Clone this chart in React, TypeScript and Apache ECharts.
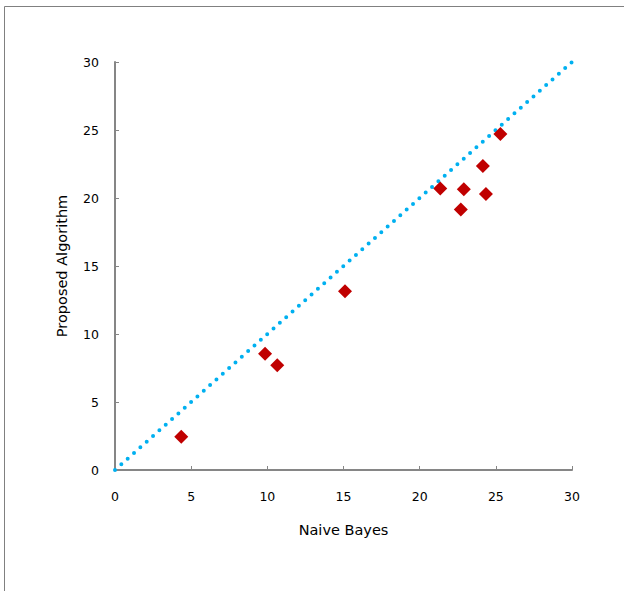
import React, { useEffect, useRef } from "react";
import * as echarts from "echarts";

const naiveBayes = [4.35, 9.85, 10.65, 15.1, 21.35, 22.9, 22.7, 24.15, 24.35, 25.3];
const proposed = [2.45, 8.55, 7.7, 13.15, 20.7, 20.65, 19.15, 22.35, 20.3, 24.7];
const refLineX = [0, 30];
const refLineY = [0, 30];
const ticks = [0, 5, 10, 15, 20, 25, 30];

export default function App() {
  const ref = useRef<HTMLDivElement>(null);
  useEffect(() => {
    if (!ref.current) return;
    const chart = echarts.init(ref.current, null, { renderer: "svg" });
    const font = "'DejaVu Sans', Verdana, sans-serif";
    chart.setOption({
      animation: false,
      backgroundColor: "#ffffff",
      grid: { left: 115, right: 52, top: 62, bottom: 121 },
      graphic: [
        {
          type: "rect",
          shape: { x: 4.5, y: 6.5, width: 700, height: 700 },
          style: { fill: "none", stroke: "#808080", lineWidth: 1 },
          silent: true,
          z: -1,
        },
      ],
      xAxis: {
        type: "value",
        min: ticks[0],
        max: ticks[ticks.length - 1],
        interval: 5,
        name: "Naive Bayes",
        nameLocation: "middle",
        nameGap: 52,
        nameTextStyle: { fontFamily: font, fontSize: 14.5, color: "#000" },
        axisLine: { show: true, lineStyle: { color: "#868686", width: 2 } },
        axisTick: { show: true, inside: true, length: 4, lineStyle: { color: "#868686" } },
        axisLabel: { margin: 20, fontFamily: font, fontSize: 12.5, color: "#000" },
        splitLine: { show: false },
      },
      yAxis: {
        type: "value",
        min: ticks[0],
        max: ticks[ticks.length - 1],
        interval: 5,
        name: "Proposed Algorithm",
        nameLocation: "middle",
        nameGap: 46,
        nameRotate: 90,
        nameTextStyle: { fontFamily: font, fontSize: 14.5, color: "#000" },
        axisLine: { show: true, lineStyle: { color: "#868686", width: 2 } },
        axisTick: { show: true, inside: true, length: 4, lineStyle: { color: "#868686" } },
        axisLabel: { margin: 16, fontFamily: font, fontSize: 12.5, color: "#000" },
        splitLine: { show: false },
      },
      series: [
        {
          type: "line",
          data: refLineX.map((x, i) => [x, refLineY[i]]),
          showSymbol: false,
          symbol: "none",
          lineStyle: { color: "#00B0F0", width: 4, type: [0, 8.5], cap: "round" },
          z: 1,
        },
        {
          type: "scatter",
          data: naiveBayes.map((x, i) => [x, proposed[i]]),
          symbol: "diamond",
          symbolSize: 14,
          itemStyle: { color: "#C00000", opacity: 1 },
          z: 2,
        },
      ],
    });
    return () => chart.dispose();
  }, []);
  return (
    <div
      ref={ref}
      style={{ position: "fixed", left: 0, top: 0, width: 624, height: 591 }}
    />
  );
}
